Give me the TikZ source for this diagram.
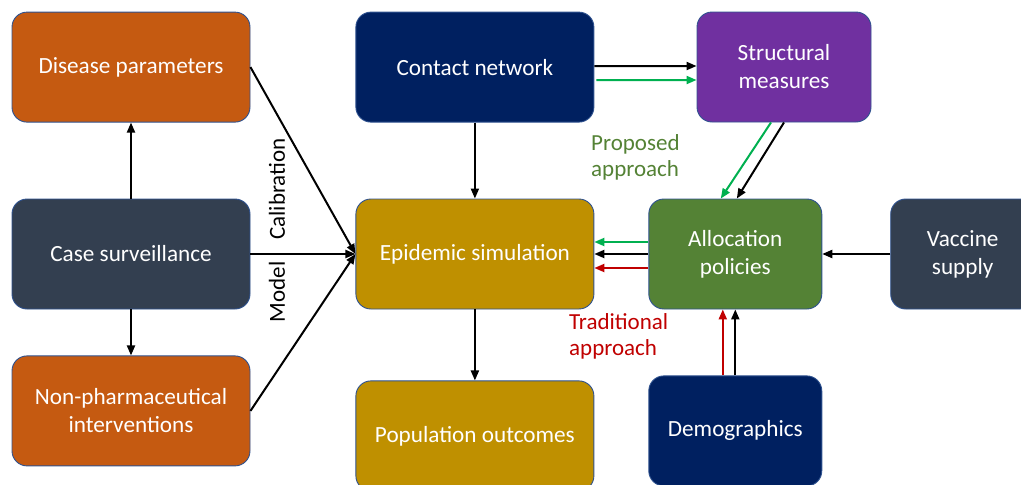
\documentclass[tikz,border=0pt]{standalone}
\usepackage{fontspec}
\setmainfont{Carlito}
\usetikzlibrary{positioning,arrows.meta}

\definecolor{rust}{HTML}{C55A11}
\definecolor{slate}{HTML}{333F50}
\definecolor{navy}{HTML}{002060}
\definecolor{gold}{HTML}{BF9000}
\definecolor{plum}{HTML}{7030A0}
\definecolor{leaf}{HTML}{548235}
\definecolor{edgeblue}{HTML}{2F528F}
\definecolor{newgreen}{HTML}{00B050}
\definecolor{oldred}{HTML}{C00000}

\begin{document}
\begin{tikzpicture}[x=1pt,y=-1pt]
\tikzstyle{block}=[rectangle, rounded corners=15pt, draw=edgeblue, line width=0.9pt, text=white, align=center, minimum height=110pt, inner sep=0pt, font=\fontsize{23.2}{28}\selectfont]
\tikzstyle{wide}=[block, minimum width=238pt]
\tikzstyle{narrow}=[block, minimum width=173pt]
\tikzstyle{connect}=[-{Triangle[length=10pt,width=8pt]}, line width=2pt]
\tikzstyle{note}=[font=\fontsize{23}{26}\selectfont, align=left, inner sep=0pt]
\useasboundingbox (0,0) rectangle (1021,485);
% left column
  \node[wide, fill=slate] (surv) at (131,254) {Case surveillance};
  \node[wide, fill=rust] (dis) [above=76pt of surv] {Disease parameters};
  \node[wide, fill=rust] (npi) [below=46pt of surv] {Non-pharmaceutical\\interventions};
% middle column
  \node[wide, fill=gold] (sim) [right=105pt of surv] {Epidemic simulation};
  \node[wide, fill=navy] (net) [above=76pt of sim] {Contact network};
  \node[wide, fill=gold] (out) [below=71pt of sim] {Population outcomes};
% right side
  \node[narrow, fill=leaf] (alloc) [right=54pt of sim] {Allocation\\policies};
  \node[narrow, fill=plum, minimum width=174pt] (struct) at (784,67) {Structural\\measures};
  \node[block, fill=slate, minimum width=144pt] (vacc) [right=68pt of alloc] {Vaccine\\supply};
  \node[narrow, fill=navy] (demog) [below=66pt of alloc] {Demographics};
% labels
  \node[note, rotate=90] (calib) at (277,189) {Calibration};
  \node[note, rotate=90] (model) at (277,292) {Model};
  \node[note, text=leaf, anchor=north west] (prop) at (591,134) {Proposed\\approach};
  \node[note, text=oldred, anchor=north west] (trad) at (569,313) {Traditional\\approach};
\path[connect] (surv) edge (dis)
           (surv) edge (npi)
           (dis.east) edge (sim.west)
           (surv.east) edge (sim.west)
           (npi.east) edge (sim.west)
           (net) edge (sim)
           (sim) edge (out)
           (vacc) edge (alloc)
           ([yshift=1pt]net.east) edge ([yshift=1pt]struct.west)
           (struct.south) edge ([xshift=1.5pt]alloc.north)
           (alloc.west) edge (sim.east)
           (demog.north) edge (alloc.south)
           ;
\path[connect, newgreen] ([xshift=2pt,yshift=-13pt]net.east) edge ([yshift=-13pt]struct.west)
           ([xshift=-13pt]struct.south) edge ([xshift=-14.5pt]alloc.north)
           ([yshift=12pt]alloc.west) edge ([yshift=12pt]sim.east)
           ;
\path[connect, oldred] ([yshift=-14pt]alloc.west) edge ([yshift=-14pt]sim.east)
           ([xshift=-12.5pt]demog.north) edge ([xshift=-12.5pt]alloc.south)
           ;
\end{tikzpicture}
\end{document}
